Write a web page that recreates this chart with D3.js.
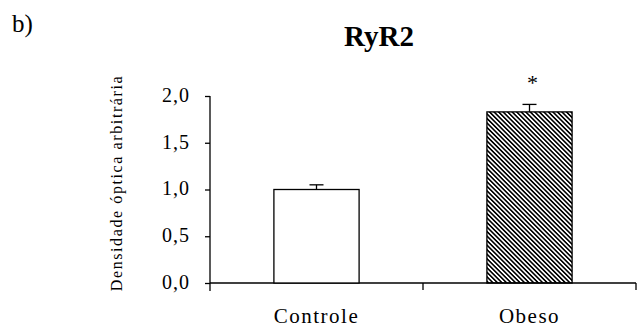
<!DOCTYPE html>
<html>
<head>
<meta charset="utf-8">
<script src="https://cdn.jsdelivr.net/npm/d3@7"></script>
<style>
  body { margin: 0; background: #fff; }
  svg { display: block; }
  text { font-family: "Liberation Serif", "Times New Roman", serif; fill: #000; }
</style>
</head>
<body>
<div id="chart"></div>
<script>
// data
var categories = ["Controle", "Obeso"];
var means = [1.0, 1.83];
var errors = [0.05, 0.08];
var yTicks = [0, 0.5, 1.0, 1.5, 2.0];
var marks = ["", "*"];

var W = 643, H = 329;
var margin = {top: 96, right: 7, bottom: 46, left: 210};
var width = W - margin.left - margin.right,
    height = H - margin.top - margin.bottom;

var svg = d3.select("#chart").append("svg")
    .attr("width", W)
    .attr("height", H);

var defs = svg.append("defs");
defs.append("pattern")
    .attr("id", "hatch")
    .attr("patternUnits", "userSpaceOnUse")
    .attr("width", 3.2)
    .attr("height", 3.2)
    .attr("patternTransform", "rotate(-45)")
  .append("rect")
    .attr("width", 1.6)
    .attr("height", 3.2)
    .attr("fill", "#000");

var g = svg.append("g")
    .attr("transform", "translate(" + margin.left + "," + margin.top + ")");

var x = d3.scaleBand()
    .domain(categories)
    .range([0, width])
    .paddingInner(0.6)
    .paddingOuter(0.3);

var y = d3.scaleLinear()
    .domain([0, 2])
    .range([187, 0]);

var fmt = function(d) { return d3.format(".1f")(d).replace(".", ","); };

// y axis
var yAxis = g.append("g")
    .call(d3.axisLeft(y).tickValues(yTicks).tickSize(5).tickPadding(15).tickFormat(fmt));
yAxis.attr("font-family", null);
yAxis.select(".domain").remove();
yAxis.append("line")
    .attr("x1", 0).attr("x2", 0)
    .attr("y1", 0).attr("y2", y(0) + 8)
    .attr("stroke", "#000").attr("stroke-width", 1.3);
yAxis.selectAll("line").attr("stroke-width", 1.3);
yAxis.selectAll("text")
    .attr("font-size", 20)
    .attr("letter-spacing", 1)
    .attr("dy", "0.27em")
    .attr("fill", "#000");

// x axis
var xAxis = g.append("g")
    .attr("transform", "translate(0," + y(0) + ")");
xAxis.append("line")
    .attr("x1", 0).attr("x2", width)
    .attr("stroke", "#000").attr("stroke-width", 1.3);
var sepX = (x(categories[0]) + x.bandwidth() + x(categories[1])) / 2;
[sepX, width].forEach(function(px) {
  xAxis.append("line")
    .attr("x1", px).attr("x2", px)
    .attr("y1", 0).attr("y2", 7)
    .attr("stroke", "#000").attr("stroke-width", 1.3);
});
xAxis.selectAll(".cat")
    .data(categories)
  .enter().append("text")
    .attr("class", "cat")
    .attr("x", function(d) { return x(d) + x.bandwidth() / 2; })
    .attr("y", 40)
    .attr("text-anchor", "middle")
    .attr("font-size", 21)
    .attr("letter-spacing", 1.5)
    .text(function(d) { return d; });

// bars
g.selectAll(".bar")
    .data(categories)
  .enter().append("rect")
    .attr("class", "bar")
    .attr("x", function(d) { return x(d); })
    .attr("y", function(d, i) { return y(means[i]); })
    .attr("width", x.bandwidth())
    .attr("height", function(d, i) { return y(0) - y(means[i]); })
    .attr("fill", function(d, i) { return i === 0 ? "#fff" : "url(#hatch)"; })
    .attr("stroke", "#000")
    .attr("stroke-width", 1.3);

// error bars
var err = g.selectAll(".err")
    .data(categories)
  .enter().append("g")
    .attr("class", "err");
err.append("line")
    .attr("x1", function(d) { return x(d) + x.bandwidth() / 2; })
    .attr("x2", function(d) { return x(d) + x.bandwidth() / 2; })
    .attr("y1", function(d, i) { return y(means[i]); })
    .attr("y2", function(d, i) { return y(means[i] + errors[i]); })
    .attr("stroke", "#000").attr("stroke-width", 1.3);
err.append("line")
    .attr("x1", function(d) { return x(d) + x.bandwidth() / 2 - 7; })
    .attr("x2", function(d) { return x(d) + x.bandwidth() / 2 + 7; })
    .attr("y1", function(d, i) { return y(means[i] + errors[i]); })
    .attr("y2", function(d, i) { return y(means[i] + errors[i]); })
    .attr("stroke", "#000").attr("stroke-width", 1.3);

// significance marks
g.selectAll(".mark")
    .data(categories)
  .enter().append("text")
    .attr("class", "mark")
    .attr("x", function(d) { return x(d) + x.bandwidth() / 2 + 3; })
    .attr("y", function(d, i) { return y(means[i] + errors[i]) - 14; })
    .attr("text-anchor", "middle")
    .attr("font-size", 22)
    .text(function(d, i) { return marks[i]; });

// y label
svg.append("text")
    .attr("transform", "translate(122,183) rotate(-90)")
    .attr("text-anchor", "middle")
    .attr("font-size", 16)
    .attr("letter-spacing", 1.6)
    .text("Densidade óptica arbitrária");

// title and panel letter
svg.append("text")
    .attr("x", 379)
    .attr("y", 46)
    .attr("text-anchor", "middle")
    .attr("font-weight", "bold")
    .attr("font-size", 29)
    .text("RyR2");

svg.append("text")
    .attr("x", 12)
    .attr("y", 32)
    .attr("font-size", 25)
    .text("b)");
</script>
</body>
</html>
